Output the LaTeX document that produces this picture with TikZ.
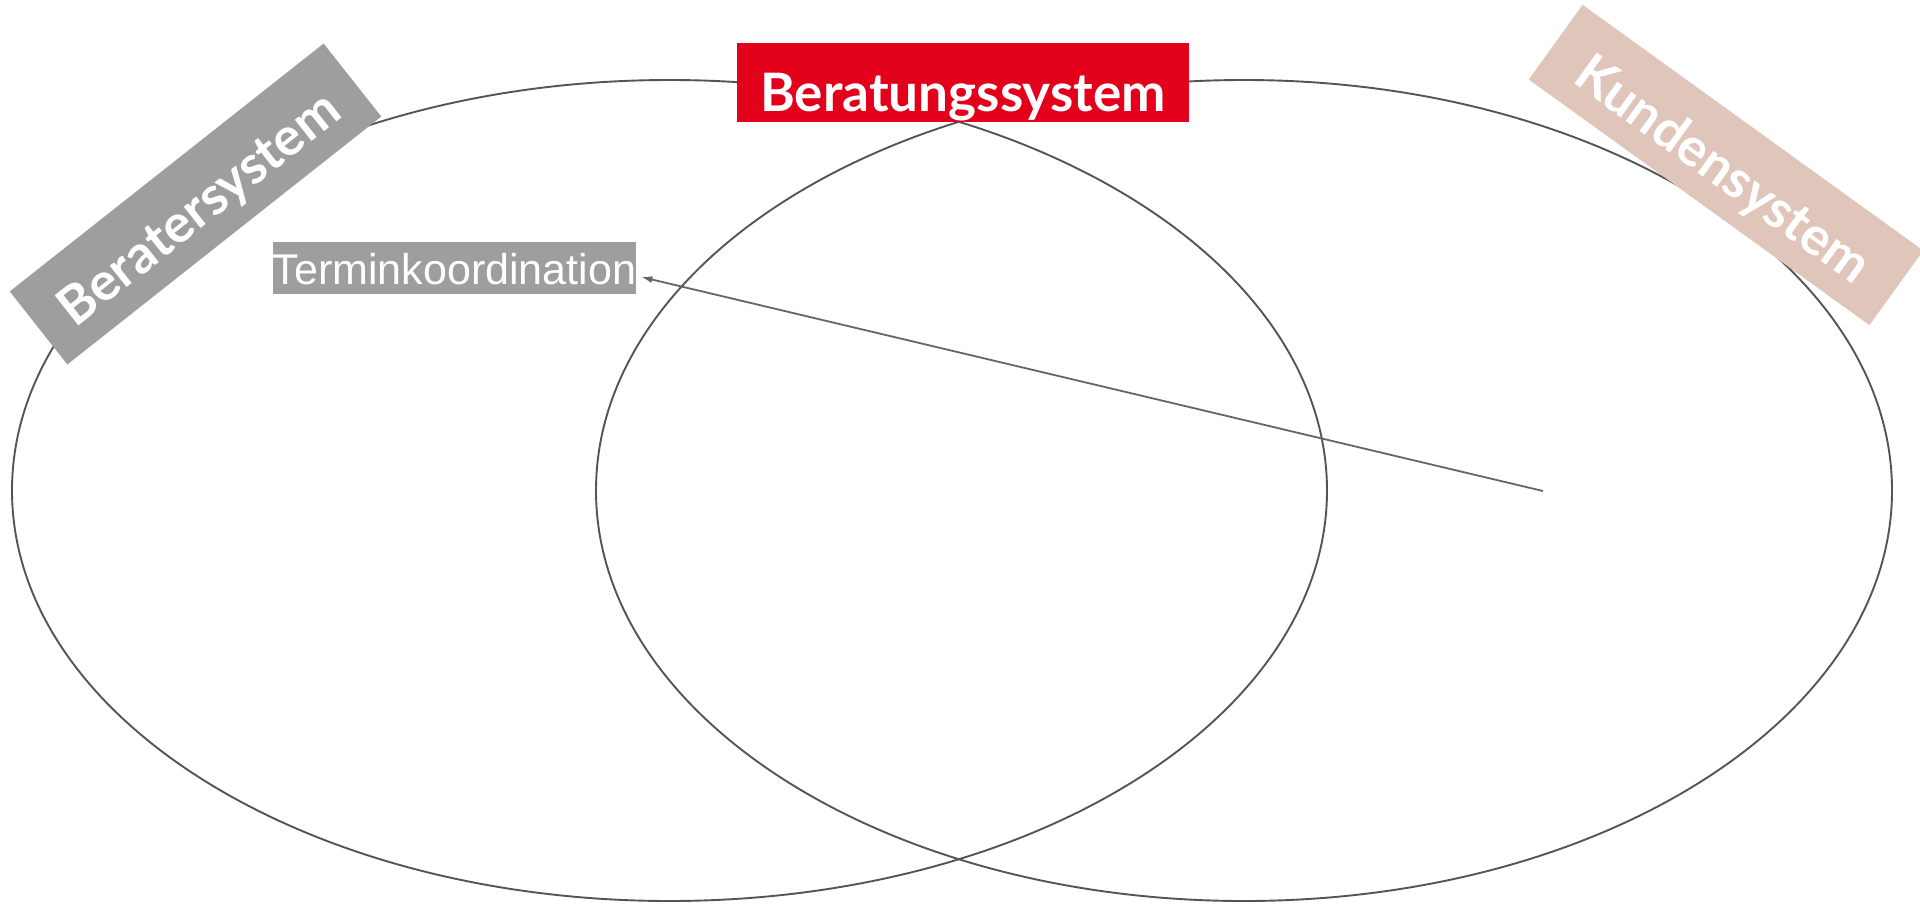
\documentclass[tikz,border=0pt]{standalone}
\usepackage{fontspec}
\setmainfont{Liberation Sans}
\newfontfamily\latofont{Lato}
\usetikzlibrary{arrows.meta}
\definecolor{ringline}{HTML}{555555}
\definecolor{arrowline}{HTML}{5E686B}
\definecolor{beratungred}{HTML}{E2001A}
\definecolor{beratergray}{HTML}{9E9E9E}
\definecolor{kundenbeige}{HTML}{E0C6BA}
\tikzset{
  ring/.style={draw=ringline, line width=1.9pt},
  systemtag/.style={text=white, inner sep=0pt, text depth=0pt,
    font=\latofont\bfseries\fontsize{53}{60}\selectfont},
  topictag/.style={fill=beratergray, text=white, inner sep=0pt,
    minimum width=361pt, minimum height=52pt, text height=33pt, text depth=0pt,
    font=\fontsize{43}{50}\selectfont},
  conn/.style={draw=arrowline, line width=1.8pt, -{Latex[length=11pt,width=7pt]}}
}
\begin{document}
\begin{tikzpicture}[x=1pt,y=-1pt]
  \clip (0,0) rectangle (1920,903);
  \fill[white] (0,0) rectangle (1920,903);

  % the two overlapping systems
  \draw[ring] (669.5,490.5) ellipse [x radius=657.5pt, y radius=410.5pt];
  \draw[ring] (1244,490.5) ellipse [x radius=648pt, y radius=410.5pt];

  % system labels
  \node[systemtag, fill=beratungred, minimum width=452pt, minimum height=79pt,
        text height=58pt] (beratung) at (963,82.5) {Beratungssystem};
  \node[systemtag, fill=beratergray, minimum width=400pt, minimum height=93pt,
        text height=46pt, rotate=38.3] (berater) at (195.5,204) {Beratersystem};
  \node[systemtag, fill=kundenbeige, minimum width=420pt, minimum height=92pt,
        text height=46pt, rotate=-35.8] (kunde) at (1726,165) {Kundensystem};

  % topic and its link
  \node[topictag] (termin) at (454.5,268) {Terminkoordination};
  \coordinate (kundenpunkt) at (1543,491);
  \draw[conn] (kundenpunkt) -- ([shift={(5,9)}]termin.east);
\end{tikzpicture}
\end{document}
